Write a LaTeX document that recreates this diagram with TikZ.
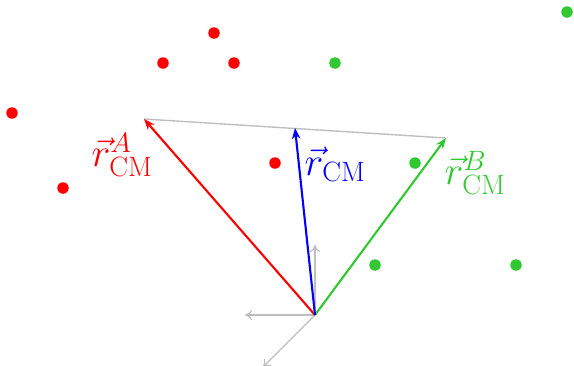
\RequirePackage{fix-cm}
\documentclass[tikz,border=0pt]{standalone}
\usetikzlibrary{arrows.meta}
\DeclareMathSizes{40}{40}{28}{20}
\definecolor{lgreen}{RGB}{50,200,50}
\definecolor{axgray}{RGB}{190,190,190}
\begin{document}
\begin{tikzpicture}[x=1pt,y=-1pt,
  dot/.style={circle,fill=#1,inner sep=0pt,minimum size=11.5pt},
  vecarrow/.style={line width=2.1pt,-{Stealth[length=11pt,width=8.5pt,inset=3.5pt]}},
  axis/.style={axgray,line width=1.2pt,-{To[length=7pt,width=10pt]}},
  lbl/.style={inner sep=0pt,font=\fontsize{40}{48}\selectfont}]
\clip (0,0) rectangle (574,365);
\useasboundingbox (0,0) rectangle (574,365);
% origin and tips
\coordinate (O) at (315,315);
\coordinate (A) at (144,119);
\coordinate (B) at (446,138);
\coordinate (C) at (295,128);
\coordinate (X) at (245,315);
\coordinate (Y) at (315,245);
\coordinate (Z) at (263,367);
% axes
\draw[axis] (O) -- (Y);
\draw[axis] (O) -- (X);
\draw[axis] (O) -- (Z);
% connecting line
\draw[axgray,line width=1.4pt] (A) -- (B);
% dots
\node[dot=red] (r1) at (214,33) {};
\node[dot=red] (r2) at (163,63) {};
\node[dot=red] (r3) at (234,63) {};
\node[dot=red] (r4) at (12,113) {};
\node[dot=red] (r5) at (63,188) {};
\node[dot=red] (r6) at (275,163) {};
\node[dot=lgreen] (g1) at (567,12) {};
\node[dot=lgreen] (g2) at (335,63) {};
\node[dot=lgreen] (g3) at (415,163) {};
\node[dot=lgreen] (g4) at (375,265) {};
\node[dot=lgreen] (g5) at (516,265) {};
% vectors
\draw[vecarrow,red] (O) -- (A);
\draw[vecarrow,lgreen] (O) -- (B);
\draw[vecarrow,blue] (O) -- (C);
% labels
\node[lbl,text=red] (la) at (122,155) {$\vec r^{A}_{\mathrm{CM}}$};
\node[lbl,text=blue] (lc) at (335,164) {$\vec r_{\mathrm{CM}}$};
\node[lbl,text=lgreen] (lb) at (475,173) {$\vec r^{B}_{\mathrm{CM}}$};
\end{tikzpicture}
\end{document}
